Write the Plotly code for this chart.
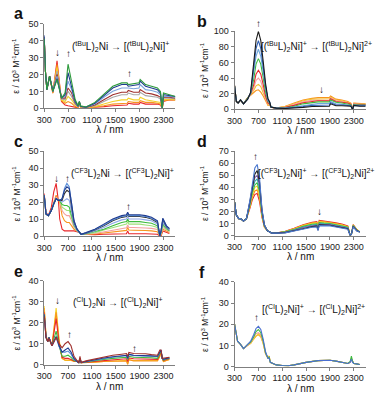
import plotly.graph_objects as go

W, H = 375, 395
FONT = "Liberation Sans, Arial, sans-serif"

# ---- panel a : (tBuL)2Ni -> [(tBuL)2Ni]+
wl_a = [300, 320, 345, 390, 445, 515, 590, 650, 700, 760, 820, 870, 890, 910, 1000, 1150,
        1300, 1450, 1600, 1690, 1710, 1800, 1890, 1910, 2000, 2100, 2200, 2250, 2280, 2300, 2400, 2500]
eps_a = [
    [42, 22, 11, 19, 9, 28, 4, 2, 1.5, 1, 0.5, 0.3, 3, 0.3, 0.3, 0.5, 1, 1.5, 2, 2, 3, 2.5, 2.5, 3.5, 2.5, 2.5, 2.5, 2, 0, 4, 5, 5],
    [42, 22, 11, 19, 9, 26, 4.5, 3, 4, 3, 1, 0.5, 3, 0.5, 0.3, 0.8, 1.5, 2.5, 3, 3, 4, 3.5, 3.5, 4.5, 3.5, 3.5, 3, 2.5, 0, 4.5, 5, 5],
    [42, 22, 11, 19, 9.5, 24, 5, 4, 7, 5, 2, 0.8, 3.5, 0.8, 0.4, 1, 2.5, 4, 5, 5, 6, 5, 5, 6.5, 5, 4.5, 4, 3.5, 0, 5, 5.5, 5],
    [42, 22, 11, 19, 10, 22, 5.5, 5, 10, 7, 2.5, 1, 3.5, 1, 0.5, 1.5, 4, 6.5, 8, 8, 9, 8, 8, 9.5, 7.5, 7, 6.5, 5.5, 0, 6, 6, 5.5],
    [42, 22, 11, 19, 10, 20, 6, 6, 12, 9, 3, 1, 4, 1, 0.5, 2, 5, 8, 9.5, 9.5, 10.5, 9.5, 9.5, 11, 9, 8.5, 7.5, 6.5, 0, 6.5, 6.5, 6],
    [42, 22, 11, 19, 10, 19, 6, 7, 16, 11, 3.5, 1, 4, 1, 0.6, 2.5, 6.5, 10, 12, 12, 12, 11.5, 12, 14, 11, 10.5, 9.5, 8, 0, 7, 7, 6.5],
    [43, 22, 11, 19, 10, 17.5, 6, 8, 21, 13, 4, 1.2, 4, 1.2, 0.7, 3, 7.5, 12, 14, 14, 13, 13.5, 14, 16, 13, 12, 11, 9, 0, 8, 7.5, 7],
    [41, 22, 11, 19, 10, 17, 6, 9, 26, 16, 5, 1.5, 4, 1.5, 0.8, 3.5, 8.5, 13, 15, 15, 14, 14.5, 15, 17, 14, 13, 12, 10, 0, 9, 8, 7],
]
col_a = ["#e8262b", "#f7941d", "#f2d12a", "#a6a6a6", "#a0302d", "#7aa4dd", "#1f3b8f", "#2d9a3c"]

# ---- panel b : [(tBuL)2Ni]+ -> [(tBuL)2Ni]2+
wl_b = [300, 330, 360, 400, 450, 520, 570, 620, 660, 700, 740, 780, 820, 860, 890, 910, 1000,
        1150, 1300, 1450, 1600, 1700, 1800, 1890, 1910, 2000, 2100, 2200, 2250, 2280, 2300, 2400, 2500]
eps_b = [
    [30, 10, 8, 12, 7, 15, 18, 21, 24, 25, 22, 17, 10, 5, 5.5, 2.5, 1.5, 4, 8, 12, 14, 15, 15, 15, 17, 13, 12, 10, 8, 0, 8, 7.5, 7],
    [30, 10, 8, 12, 7, 15, 19, 24, 30, 32, 29, 21, 12, 6, 6, 2.5, 1.5, 3.5, 7, 11, 13, 13.5, 13.5, 13.5, 15.5, 12, 11, 9, 7.5, 0, 7.5, 7, 7],
    [30, 10, 8, 12, 7, 14.5, 19, 27, 37, 40, 36, 26, 14, 7, 6.5, 2.5, 1.5, 3, 6, 9.5, 11.5, 12, 12, 12, 14.5, 11, 10, 8.5, 7, 0, 7, 6.5, 6.5],
    [30, 10, 8, 12, 7, 14, 20, 31, 45, 50, 45, 32, 17, 8, 7, 2.5, 1.5, 2.5, 5, 8.5, 10.5, 11, 11, 11, 13.5, 10, 9, 8, 6.5, 0, 6.5, 6, 6],
    [30, 10, 8, 12, 7, 14, 20, 38, 58, 65, 58, 41, 22, 10, 8, 3, 1.5, 2, 4, 7, 9, 9.5, 9.5, 9.5, 12, 9, 8, 7, 6, 0, 6, 5.5, 5.5],
    [30, 10, 8, 12, 7, 13.5, 21, 44, 68, 77, 68, 48, 26, 11, 8.5, 3, 1.5, 1.5, 3, 5, 7, 7.5, 7.5, 7.5, 10, 7, 6.5, 6, 5, 0, 5.5, 5, 5],
    [30, 10, 8, 12, 7, 13, 21, 49, 78, 88, 78, 55, 29, 12.5, 9, 3, 1.5, 1.2, 2, 3.5, 5, 5.5, 5.5, 5.5, 8.5, 5.5, 5.5, 5, 4.5, 0, 5, 4.5, 4.5],
    [30, 10, 8, 12, 7, 13, 22, 55, 88, 100, 88, 62, 33, 14, 9, 3, 1.5, 1, 1.5, 2.5, 3.5, 4, 4, 4, 7, 4.5, 4.5, 4.5, 4, 0, 5, 4, 4],
]
col_b = ["#f7941d", "#f4c430", "#f4a0a0", "#e8262b", "#3dbb3d", "#6fa8dc", "#2f5fb3", "#1a1a1a"]

# ---- panel c : (CF3L)2Ni -> [(CF3L)2Ni]+
wl_c = [300, 330, 370, 420, 460, 500, 540, 560, 600, 640, 680, 720, 760, 800, 850, 900, 920, 1000,
        1150, 1300, 1450, 1600, 1680, 1700, 1720, 1800, 1900, 2000, 2100, 2200, 2240, 2260, 2290, 2350, 2400]
eps_c = [
    [25, 14, 12, 17, 26, 31, 20, 10, 4, 3, 3, 3, 3, 3, 2.5, 2, 1, 0.8, 0.8, 1, 1, 1.2, 1.3, 3, 1.3, 1.3, 1.5, 1.3, 1.2, 1, 0, 0, 3, 2, 1.5],
    [24, 13, 12, 15, 20, 24, 21, 20, 12, 9, 8, 8, 6, 4, 3, 2, 1, 1, 1.2, 1.8, 2.5, 3, 3.3, 5, 3.5, 3.4, 3.5, 3.2, 3, 2.5, 0, 0.5, 4, 3, 2],
    [24, 13, 12, 15, 19, 23, 21, 21, 15, 13, 12, 12, 9, 5, 3, 2, 1, 1, 1.5, 2.5, 3.5, 4.5, 4.8, 6.5, 5, 5, 5, 4.7, 4.5, 3.8, 0, 1, 5, 3.5, 2.5],
    [24, 13, 12, 15, 19, 22, 21, 21, 17, 16, 15, 15, 11, 6, 3, 2, 1, 1.2, 2, 3.5, 5, 6.5, 7, 8.5, 7, 7, 7, 6.5, 6, 5, 0, 1.5, 6, 4, 3],
    [24, 13, 12, 15, 19, 22, 21, 21, 18.5, 18, 18, 17, 12, 6.5, 3.5, 2, 1, 1.3, 2.5, 4, 6, 8, 8.5, 10, 8.5, 8.5, 8.5, 8, 7.5, 6, 0, 2, 7, 4.5, 3],
    [24, 13, 12, 15, 19, 22, 21, 21, 20, 21, 22, 21, 14, 7, 3.5, 2, 1, 1.5, 3, 5, 7.5, 9.5, 10, 11.5, 10, 10, 10, 9.5, 9, 7, 0, 2.5, 8, 5, 3.5],
    [24, 13, 12, 15, 19, 22, 21, 21, 21, 25, 27, 26, 17, 8, 4, 2, 1, 1.7, 3.5, 6, 9, 11, 11.5, 13, 11.5, 11.5, 11.5, 11, 10, 8, 0, 3, 9.5, 5.5, 4],
    [24, 13, 12, 15, 19, 22, 21, 21, 22, 28, 31, 29, 19, 9, 4, 2, 1, 1.8, 3.8, 6.5, 9.5, 11.5, 12, 13.5, 12, 12, 12, 11.5, 10.5, 8.5, 0, 3, 10, 6, 4],
    [24, 13, 12, 15, 19, 22, 21, 21, 22, 27, 29, 28, 19, 9, 4, 2, 1, 2, 4, 7, 10, 12, 12.5, 14, 12.5, 12.5, 12.5, 12, 11, 9, 0, 3, 10.5, 6, 4.5],
]
col_c = ["#e8262b", "#f7941d", "#f4a0a0", "#9ee07a", "#3dbb3d", "#8fa8e8", "#333333", "#5b8fd9", "#1f3b8f"]

# ---- panel d : [(CF3L)2Ni]+ -> [(CF3L)2Ni]2+
wl_d = [300, 330, 370, 400, 450, 500, 560, 600, 640, 680, 720, 760, 800, 850, 900, 920, 1000,
        1150, 1300, 1450, 1600, 1680, 1700, 1720, 1800, 1900, 2000, 2100, 2200, 2240, 2260, 2290, 2350, 2400]
eps_d = [
    [28, 17, 14, 14, 12, 14, 23, 30, 34, 35, 28, 15, 7, 4, 3, 2, 2, 3.5, 6, 9, 11, 11.5, 7.5, 12.5, 12, 11.5, 10.5, 9.5, 8, 0, 1, 9, 5, 3],
    [28, 17, 14, 14, 12, 14, 24, 32, 37, 38, 31, 16, 7, 4, 3, 2, 2, 3.3, 5.7, 8.6, 10.5, 11, 7, 12, 11.5, 11, 10, 9, 7.6, 0, 1, 8.8, 5, 3],
    [28, 17, 14, 14, 12, 14, 25, 34, 40, 41, 33, 17, 7.5, 4, 3, 2, 2, 3.1, 5.4, 8.2, 10, 10.5, 6.5, 11.5, 11, 10.5, 9.5, 8.6, 7.2, 0, 1, 8.6, 4.8, 3],
    [28, 17, 14, 14, 12, 14, 26, 36, 42, 44, 36, 18, 8, 4, 3, 2, 2, 3, 5, 7.6, 9.3, 9.7, 6, 10.7, 10.3, 10, 9, 8.1, 6.8, 0, 1, 8.3, 4.6, 3],
    [28, 17, 14, 14, 12, 14, 27, 38, 45, 47, 38, 19, 8, 4, 3, 2, 2, 2.8, 4.7, 7.1, 8.7, 9.1, 5.5, 10, 9.7, 9.5, 8.5, 7.6, 6.4, 0, 1, 8, 4.4, 3],
    [28, 17, 14, 14, 12, 14, 28, 40, 48, 50, 41, 20, 8.5, 4, 3, 2, 2, 2.6, 4.3, 6.6, 8.1, 8.4, 5, 9.4, 9.1, 9, 8, 7.1, 6, 0, 1, 7.8, 4.2, 3],
    [28, 17, 14, 14, 12, 14, 29, 42, 51, 54, 44, 21, 9, 4, 3, 2, 2, 2.4, 4, 6, 7.4, 7.8, 4.5, 8.8, 8.5, 8.5, 7.5, 6.6, 5.6, 0, 1, 7.5, 4, 3],
    [28, 17, 14, 14, 12, 14, 30, 45, 56, 59, 47, 22, 9, 4, 3, 2, 2, 2.2, 3.7, 5.5, 6.8, 7.2, 4, 8.2, 8, 8, 7, 6.2, 5.2, 0, 1, 7.2, 3.8, 3],
]
col_d = ["#e8262b", "#f7941d", "#f2d12a", "#3dbb3d", "#2bb5a5", "#7a5fb0", "#222222", "#4a78d0"]

# ---- panel e : (ClL)2Ni -> [(ClL)2Ni]+
wl_e = [300, 330, 360, 380, 430, 500, 550, 600, 650, 700, 750, 800, 850, 880, 900, 920, 1000,
        1150, 1300, 1450, 1600, 1680, 1700, 1720, 1800, 1900, 2000, 2100, 2200, 2240, 2260, 2280, 2300, 2350, 2400]
eps_e = [
    [28, 14, 11, 13, 9, 27, 12, 3, 2, 2, 2, 1.5, 1.5, 1, 3, 1, 1, 1.2, 1.5, 1.7, 1.8, 2, 0.5, 2.5, 2, 2, 2, 2, 2, 4, 6, 3, 1.5, 2, 2.5],
    [27, 14, 11, 13, 9, 25, 11, 3, 2.2, 2.3, 2.2, 1.6, 1.5, 1, 3, 1, 1, 1.2, 1.5, 1.6, 1.7, 1.8, 0, 2.3, 1.8, 1.8, 1.8, 1.8, 1.8, 4, 6, 3, 1.5, 2, 2.5],
    [25, 13, 11, 13, 9, 22, 10, 3.5, 3, 3, 2.5, 1.8, 1.5, 1, 3, 1, 1.2, 1.5, 2, 2.3, 2.6, 2.8, 1.5, 3.2, 2.8, 2.8, 2.7, 2.6, 2.5, 5, 6.5, 3, 2, 2.5, 3],
    [24, 13, 11, 13, 9, 16, 9, 4, 4, 4.5, 3.5, 2, 1.5, 1, 3, 1, 1.3, 2, 2.5, 3, 3.3, 3.5, 2.5, 4, 3.5, 3.5, 3.5, 3.3, 3, 5.5, 6.5, 3, 2.2, 2.7, 3],
    [24, 13, 11, 13, 9, 13, 8.5, 6, 6, 6.5, 5, 2.5, 1.5, 1, 3, 1, 1.4, 2.2, 3, 3.5, 4, 4.3, 3, 4.8, 4.3, 4.3, 4.2, 4, 3.8, 6, 7, 3, 2.5, 3, 3.2],
    [24, 13, 11, 13, 9, 13.5, 9, 6, 7, 8, 6, 3, 1.5, 1, 3, 1, 1.5, 2.4, 3.2, 3.8, 4.3, 4.5, 3, 5, 4.5, 4.5, 4.4, 4.2, 4, 6.5, 7, 3, 2.6, 3, 3.3],
    [23, 13, 11, 12.5, 9, 13, 10, 8, 10, 11, 9, 4, 2, 1, 4, 1, 1.8, 2.8, 3.8, 4.5, 5, 5.3, 4, 5.8, 5.3, 5.3, 5.2, 4.8, 4.5, 7, 7, 3, 3, 3.3, 3.5],
]
col_e = ["#f5d327", "#f7941d", "#e8262b", "#3dbb3d", "#5b8fd9", "#1f3b8f", "#a0302d"]

# ---- panel f : [(ClL)2Ni]+ -> [(ClL)2Ni]2+
wl_f = [300, 320, 350, 400, 450, 520, 570, 620, 660, 700, 740, 780, 820, 860, 880, 900, 950,
        1000, 1100, 1200, 1300, 1500, 1700, 1900, 2000, 2100, 2200, 2240, 2260, 2280, 2300, 2350, 2400]
eps_f = [
    [20, 16, 12, 10.5, 8.5, 10, 11, 13, 14.5, 15, 14, 11, 6, 4, 5, 2, 1.2, 0.8, 0.5, 0.4, 0.8, 2, 2.8, 3, 2.6, 2, 1.5, 2, 3.5, 2.5, 1.5, 1.3, 1],
    [20, 16, 12, 10.5, 8.5, 10, 11, 13, 14.5, 15.5, 14.5, 11, 6, 4, 5, 2, 1.2, 0.8, 0.5, 0.4, 0.8, 2, 2.8, 3, 2.6, 2, 1.5, 2, 3.8, 2.5, 1.5, 1.3, 1],
    [20, 16, 12, 10.5, 8.5, 10.2, 11.3, 13.5, 15.5, 16, 15, 11.5, 6.2, 4, 4.5, 2, 1.2, 0.8, 0.5, 0.4, 0.8, 2, 2.8, 3, 2.6, 2, 1.5, 2, 4, 2.5, 1.5, 1.3, 1],
    [20, 16, 12, 10.5, 8.5, 10.5, 11.5, 14, 16.5, 17.5, 16, 12, 6.5, 4, 4.5, 2, 1.2, 0.8, 0.5, 0.4, 0.8, 2, 2.8, 3, 2.6, 2, 1.5, 2.5, 5, 2.5, 1.5, 1.3, 1],
    [20, 16, 12, 10.5, 8.5, 10.5, 12, 15, 18, 19, 17.5, 13, 7, 4, 4, 2, 1.2, 0.8, 0.5, 0.4, 0.8, 2, 2.8, 3, 2.6, 2, 1.5, 2, 3.5, 2, 1.5, 1.3, 1],
]
col_f = ["#f7941d", "#f5d327", "#f4a0a0", "#3dbb3d", "#4a6fd0"]

y_ticks_a = [0, 10, 20, 30, 40, 50]
y_ticks_b = [0, 20, 40, 60, 80, 100]
y_ticks_c = [0, 10, 20, 30, 40, 50]
y_ticks_d = [0, 10, 20, 30, 40, 50, 60, 70]
y_ticks_e = [0, 10, 20, 30, 40]
y_ticks_f = [0, 10, 20, 30, 40]
x_ticks = [300, 700, 1100, 1500, 1900, 2300]

labels = ["(<sup>tBu</sup>L)<sub>2</sub>Ni → [(<sup>tBu</sup>L)<sub>2</sub>Ni]<sup>+</sup>",
          "[(<sup>tBu</sup>L)<sub>2</sub>Ni]<sup>+</sup> → [(<sup>tBu</sup>L)<sub>2</sub>Ni]<sup>2+</sup>",
          "(<sup>CF3</sup>L)<sub>2</sub>Ni → [(<sup>CF3</sup>L)<sub>2</sub>Ni]<sup>+</sup>",
          "[(<sup>CF3</sup>L)<sub>2</sub>Ni]<sup>+</sup> → [(<sup>CF3</sup>L)<sub>2</sub>Ni]<sup>2+</sup>",
          "(<sup>Cl</sup>L)<sub>2</sub>Ni → [(<sup>Cl</sup>L)<sub>2</sub>Ni]<sup>+</sup>",
          "[(<sup>Cl</sup>L)<sub>2</sub>Ni]<sup>+</sup> → [(<sup>Cl</sup>L)<sub>2</sub>Ni]<sup>2+</sup>"]

# pixel boxes: (x0, x1, y_zero, y_top)
panels = [
    ("a", wl_a, eps_a, col_a, y_ticks_a, (37, 171, 106, 19)),
    ("b", wl_b, eps_b, col_b, y_ticks_b, (231.5, 365.5, 107, 27)),
    ("c", wl_c, eps_c, col_c, y_ticks_c, (37, 171, 237, 150)),
    ("d", wl_d, eps_d, col_d, y_ticks_d, (231.5, 365.5, 236.5, 150)),
    ("e", wl_e, eps_e, col_e, y_ticks_e, (37, 171, 369, 283)),
    ("f", wl_f, eps_f, col_f, y_ticks_f, (231.5, 365.5, 371, 284)),
]


def txt(text, px, py, size, angle=0, bold=False):
    if bold:
        text = "<b>" + text + "</b>"
    return dict(text=text, x=px / W, y=1 - py / H, xref="paper", yref="paper",
                 xanchor="center", yanchor="middle", showarrow=False, textangle=angle,
                 font=dict(family=FONT, size=size, color="#111111"))


fig = go.Figure()
lay = {}
ann = []
for i, (letter, wl, eps, cols, yt, box) in enumerate(panels):
    n = "" if i == 0 else str(i + 1)
    x0, x1, y0, y1 = box
    for spec, c in zip(eps, cols):
        fig.add_trace(go.Scatter(x=wl, y=spec, mode="lines", xaxis="x" + n, yaxis="y" + n,
                                 line=dict(color=c, width=1.1), showlegend=False, hoverinfo="skip"))
    axfont = dict(family=FONT, size=9, color="#222222")
    lay["xaxis" + n] = dict(domain=[x0 / W, x1 / W], range=[300, 2500], anchor="y" + n,
                            tickvals=x_ticks, showgrid=False, zeroline=False, showline=True,
                            linecolor="#7f7f7f", linewidth=1, ticks="outside", ticklen=3,
                            tickcolor="#7f7f7f", tickfont=axfont)
    lay["yaxis" + n] = dict(domain=[1 - y0 / H, 1 - y1 / H], range=[0, yt[-1]], anchor="x" + n,
                            tickvals=yt, showgrid=False, zeroline=False, showline=True,
                            linecolor="#7f7f7f", linewidth=1, ticks="outside", ticklen=3,
                            tickcolor="#7f7f7f", tickfont=axfont)
    left = i % 2 == 0
    ann.append(txt(letter, 11 if left else 198, y1 - 10, 16, bold=True))
    ann.append(txt("λ / nm", (x0 + x1) / 2, y0 + 22, 10))
    ann.append(txt("ε / 10<sup>3</sup> M<sup>-1</sup>cm<sup>-1</sup>", 9 if left else 201,
                   (y0 + y1) / 2, 8.5, angle=-90))

# reaction labels and arrows (pixel positions)
label_pos = [(115, 43), (315, 43), (117, 173), (315, 173), (112, 305), (312, 312)]
for t, (px, py) in zip(labels, label_pos):
    ann.append(txt(t, px, py, 10))
arrows = [("↓", 51, 49), ("↑", 62, 50), ("↑", 124, 70),
          ("↑", 256, 19), ("↓", 320, 87),
          ("↓", 50, 178), ("↑", 61, 178), ("↑", 123, 207),
          ("↑", 253, 155), ("↓", 318, 212),
          ("↓", 51, 303), ("↑", 63, 338), ("↑", 129, 352),
          ("↑", 254, 321)]
for s, px, py in arrows:
    ann.append(txt(s, px, py, 10))

fig.update_layout(width=W, height=H, margin=dict(l=0, r=0, t=0, b=0),
                  paper_bgcolor="white", plot_bgcolor="white", annotations=ann, **lay)
fig.write_html("out.html", config={"displayModeBar": False},
               post_script="document.body.style.margin='0px';")
